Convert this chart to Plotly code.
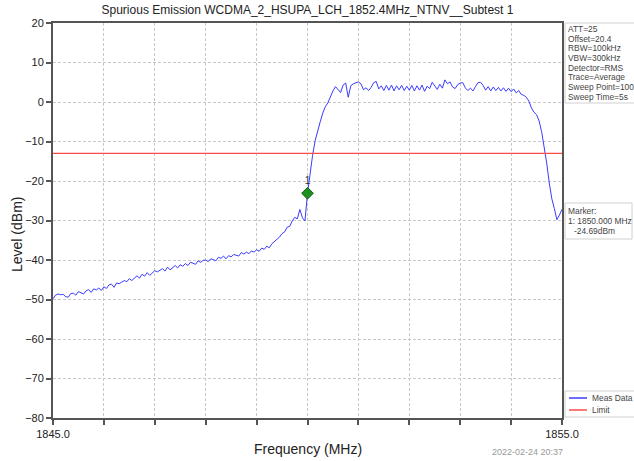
import numpy as np
import plotly.graph_objects as go

# ---------------- data ----------------
title_text = "Spurious Emission WCDMA_2_HSUPA_LCH_1852.4MHz_NTNV__Subtest 1"
f_start, f_stop = 1845.0, 1855.0
meas_level = [
    -49.8, -48.9, -48.6, -48.8, -48.7, -49.3, -49.4, -48.5, -48.4, -48.9,
    -48.0, -48.3, -48.6, -47.8, -47.5, -48.2, -47.3, -47.6, -47.1, -47.7,
    -46.8, -47.2, -46.3, -46.1, -46.9, -45.8, -46.0, -45.6, -45.2, -45.5,
    -44.7, -45.2, -44.5, -44.0, -44.6, -43.6, -44.1, -43.2, -43.9, -43.3,
    -42.7, -43.0, -42.6, -42.2, -42.8, -41.8, -42.5, -41.9, -41.4, -42.0,
    -41.2, -41.6, -40.9, -41.4, -40.6, -40.8, -41.1, -40.2, -40.6, -40.1,
    -40.0, -40.4, -39.7, -39.9, -40.2, -39.3, -39.6, -39.0, -39.7, -38.9,
    -39.2, -38.6, -38.8, -39.0, -38.1, -38.5, -38.0, -38.4, -37.7, -38.0,
    -37.4, -37.8, -37.0, -37.3, -36.5, -36.9, -35.9, -35.4, -34.7, -34.2,
    -33.3, -32.9, -31.7, -31.5, -30.1, -29.2, -29.6, -27.2, -29.3, -30.1,
    -23.1, -18.0, -13.5, -9.8, -7.2, -5.0, -2.8, -1.2, -0.2, 1.5,
    2.8, 3.9, 3.2, 2.4, 4.3, 4.8, 1.2, 4.1, 4.6, 4.9,
    5.1, 4.6, 3.1, 3.6, 2.9, 3.7, 4.9, 5.2, 3.3, 4.1,
    2.9, 4.2, 3.0, 4.3, 2.8, 4.1, 3.1, 4.2, 2.9, 4.0,
    3.0, 4.2, 2.8, 4.1, 3.0, 4.3, 2.7, 4.0, 3.4, 5.0,
    4.1, 3.2, 4.5, 3.5, 5.6, 4.6, 5.1, 3.8, 3.4, 4.4,
    4.8, 4.9, 3.6, 2.9, 3.5, 2.8, 3.9, 4.9, 5.0, 4.2,
    3.0, 3.9, 2.8, 3.8, 2.9, 3.7, 2.8, 3.6, 2.7, 3.5,
    2.6, 3.3, 2.3, 2.9, 1.9, 1.7, 1.2, 0.2, -1.5, -2.6,
    -3.2, -4.8, -7.5, -11.0, -15.5, -20.5, -24.5, -27.0, -29.8, -28.6,
    -27.2,
]
limit_level = -13.0
marker_freq = 1850.0
marker_level = -23.1
marker_name = "1"

y_ticks = [-80, -70, -60, -50, -40, -30, -20, -10, 0, 10, 20]
x_ticks = [1845, 1846, 1847, 1848, 1849, 1850, 1851, 1852, 1853, 1854, 1855]
x_ticktext = ["1845.0", "", "", "", "", "", "", "", "", "", "1855.0"]

info_lines = ["ATT=25", "Offset=20.4", "RBW=100kHz", "VBW=300kHz",
              "Detector=RMS", "Trace=Average", "Sweep Point=1001", "Sweep Time=5s"]
marker_lines = ["Marker:", "1: 1850.000 MHz", "-24.69dBm"]
legend_names = ["Meas Data", "Limit"]
date_text = "2022-02-24 20:37"

# ---------------- layout helpers ----------------
W, H = 634, 461
L, R, T, B = 53, 562, 23, 418


def px(x):
    return (x - L) / (R - L)


def py(y):
    return (B - y) / (B - T)


FONT = "Liberation Sans, Arial, sans-serif"
BLUE = "#3b3bff"
RED = "#ff4a4a"
SIDE_FONT = dict(size=8.4, color="#444444", family=FONT)

freq = np.linspace(f_start, f_stop, len(meas_level))

fig = go.Figure()
fig.add_trace(go.Scatter(x=freq, y=meas_level, mode="lines", name=legend_names[0],
                         line=dict(color=BLUE, width=1), showlegend=False))
fig.add_trace(go.Scatter(x=[f_start, f_stop], y=[limit_level, limit_level], mode="lines",
                         name=legend_names[1], line=dict(color=RED, width=1.3), showlegend=False))
fig.add_trace(go.Scatter(x=[marker_freq], y=[marker_level], mode="markers+text",
                         text=[marker_name], textposition="top center",
                         textfont=dict(size=10, color="#333333", family=FONT),
                         marker=dict(symbol="diamond", size=9, color="#1f8f1f",
                                     line=dict(color="#0b5e0b", width=1)),
                         showlegend=False))

shapes = []
annotations = []

# info box
shapes.append(dict(type="rect", xref="paper", yref="paper",
                   x0=px(565), x1=px(660), y0=py(103), y1=py(23),
                   line=dict(color="#d0d0d0", width=1), fillcolor="white", layer="above"))
for k, t in enumerate(info_lines):
    annotations.append(dict(xref="paper", yref="paper", x=px(566), y=py(29 + 9.7 * k),
                            text=t, showarrow=False, xanchor="left", yanchor="middle",
                            font=SIDE_FONT))

# marker box
shapes.append(dict(type="rect", xref="paper", yref="paper",
                   x0=px(565), x1=px(632), y0=py(239), y1=py(203),
                   line=dict(color="#d0d0d0", width=1), fillcolor="white", layer="above"))
mk_x = [566, 566, 572]
for k, t in enumerate(marker_lines):
    annotations.append(dict(xref="paper", yref="paper", x=px(mk_x[k]), y=py(211 + 10 * k),
                            text=t, showarrow=False, xanchor="left", yanchor="middle",
                            font=SIDE_FONT))

# legend box
shapes.append(dict(type="rect", xref="paper", yref="paper",
                   x0=px(565), x1=px(660), y0=py(417), y1=py(391),
                   line=dict(color="#d0d0d0", width=1), fillcolor="white", layer="above"))
for k, (nm, col) in enumerate(zip(legend_names, [BLUE, RED])):
    yy = 398 + 12 * k
    shapes.append(dict(type="line", xref="paper", yref="paper",
                       x0=px(569), x1=px(587), y0=py(yy), y1=py(yy),
                       line=dict(color=col, width=1.5), layer="above"))
    annotations.append(dict(xref="paper", yref="paper", x=px(590), y=py(yy),
                            text=nm, showarrow=False, xanchor="left", yanchor="middle",
                            font=SIDE_FONT))

# axis titles and date
annotations.append(dict(xref="paper", yref="paper", x=0.5, y=py(449), text="Frequency (MHz)",
                        showarrow=False, xanchor="center", yanchor="middle",
                        font=dict(size=14, color="#222222", family=FONT)))
annotations.append(dict(xref="paper", yref="paper", x=px(17), y=py(235), text="Level (dBm)",
                        showarrow=False, xanchor="center", yanchor="middle", textangle=-90,
                        font=dict(size=14, color="#222222", family=FONT)))
annotations.append(dict(xref="paper", yref="paper", x=px(527), y=py(452), text=date_text,
                        showarrow=False, xanchor="center", yanchor="middle",
                        font=dict(size=9, color="#999999", family=FONT)))

fig.update_layout(
    width=W, height=H,
    margin=dict(l=L, r=W - R, t=T, b=H - B, autoexpand=False),
    paper_bgcolor="white", plot_bgcolor="white",
    title=dict(text=title_text, x=0.5, xref="paper", xanchor="center",
               y=(H - 10) / H, yref="container", yanchor="middle",
               font=dict(size=12, color="#222222", family=FONT)),
    font=dict(family=FONT),
    shapes=shapes, annotations=annotations,
    xaxis=dict(range=[f_start, f_stop], tickvals=x_ticks, ticktext=x_ticktext,
               showgrid=True, gridcolor="#c8c8c8", griddash="3px,2px", gridwidth=1,
               showline=True, linecolor="#555555", linewidth=2, mirror=True,
               ticks="outside", ticklen=5, tickcolor="#555555", tickwidth=1.5,
               tickfont=dict(size=11, color="#222222", family=FONT),
               zeroline=False, fixedrange=True),
    yaxis=dict(range=[-80, 20], tickvals=y_ticks,
               showgrid=True, gridcolor="#c8c8c8", griddash="3px,2px", gridwidth=1,
               showline=True, linecolor="#555555", linewidth=2, mirror=True,
               ticks="outside", ticklen=5, tickcolor="#555555", tickwidth=1.5,
               tickfont=dict(size=11, color="#222222", family=FONT),
               zeroline=False, fixedrange=True),
)

fig.write_html("out.html")
